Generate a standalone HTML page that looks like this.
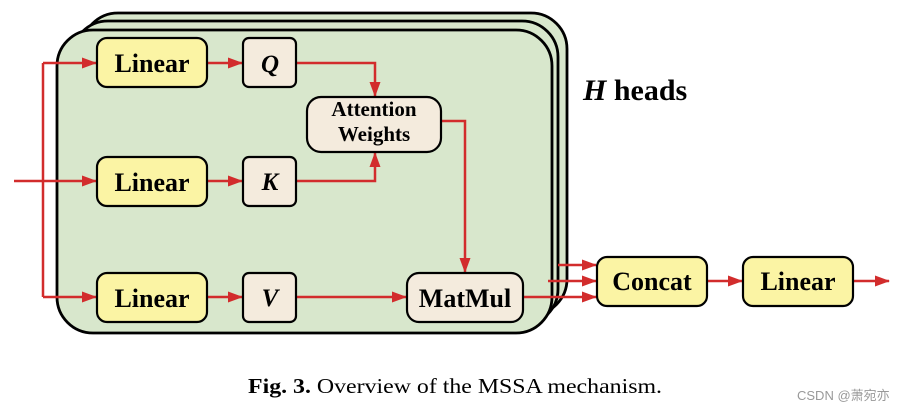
<!DOCTYPE html>
<html><head><style>
body{margin:0;background:#fff;width:913px;height:414px;overflow:hidden}
</style></head><body>
<svg width="913" height="414" xmlns="http://www.w3.org/2000/svg" font-family="Liberation Serif, serif">
<defs><marker id="a" markerWidth="15" markerHeight="11" refX="14" refY="5.5" orient="auto" markerUnits="userSpaceOnUse"><path d="M0,0 L15,5.5 L0,11 z" fill="#d22c2c"/></marker></defs>
<rect x="82" y="13" width="485" height="302" rx="36" fill="#d8e7cc" stroke="#000" stroke-width="2.8"/>
<rect x="72" y="21" width="486" height="304" rx="36" fill="#d8e7cc" stroke="#000" stroke-width="2.8"/>
<rect x="57" y="30" width="495" height="303" rx="36" fill="#d8e7cc" stroke="#000" stroke-width="2.8"/>
<g stroke="#d22c2c" stroke-width="2.5" fill="none">
<path d="M14,181 H96" marker-end="url(#a)"/>
<path d="M43,63 V297"/>
<path d="M43,63 H96" marker-end="url(#a)"/>
<path d="M43,297 H96" marker-end="url(#a)"/>
<path d="M207,63 H242" marker-end="url(#a)"/>
<path d="M207,181 H242" marker-end="url(#a)"/>
<path d="M207,297 H242" marker-end="url(#a)"/>
<path d="M296,63 H375 V96" marker-end="url(#a)"/>
<path d="M296,181 H375 V153" marker-end="url(#a)"/>
<path d="M441,121 H465 V272" marker-end="url(#a)"/>
<path d="M296,297 H406" marker-end="url(#a)"/>
<path d="M558,265 H596" marker-end="url(#a)"/>
<path d="M548,281 H596" marker-end="url(#a)"/>
<path d="M523,297 H596" marker-end="url(#a)"/>
<path d="M707,281 H742" marker-end="url(#a)"/>
<path d="M853,281 H889" marker-end="url(#a)"/>
</g>
<g stroke="#000" stroke-width="2.2">
<rect x="97" y="38" width="110" height="49" rx="10" fill="#fbf4a4"/>
<rect x="97" y="157" width="110" height="49" rx="10" fill="#fbf4a4"/>
<rect x="97" y="273" width="110" height="49" rx="10" fill="#fbf4a4"/>
<rect x="243" y="38" width="53" height="49" rx="6" fill="#f4ebdd"/>
<rect x="243" y="157" width="53" height="49" rx="6" fill="#f4ebdd"/>
<rect x="243" y="273" width="53" height="49" rx="6" fill="#f4ebdd"/>
<rect x="307" y="97" width="134" height="55" rx="14" fill="#f4ebdd"/>
<rect x="407" y="273" width="116" height="49" rx="12" fill="#f4ebdd"/>
<rect x="597" y="257" width="110" height="49" rx="10" fill="#fbf4a4"/>
<rect x="743" y="257" width="110" height="49" rx="10" fill="#fbf4a4"/>
</g>
<g font-weight="bold" text-anchor="middle" font-size="26">
<text x="152" y="72">Linear</text>
<text x="152" y="191">Linear</text>
<text x="152" y="307">Linear</text>
<text x="465" y="307">MatMul</text>
<text x="652" y="290">Concat</text>
<text x="798" y="290">Linear</text>
<g font-style="italic" font-size="25"><text x="270" y="72">Q</text><text x="270" y="190">K</text><text x="270" y="306">V</text></g>
<text x="374" y="116" font-size="21">Attention</text>
<text x="374" y="141" font-size="21">Weights</text>
</g>
<text x="583" y="100" font-size="30" font-weight="bold"><tspan font-style="italic">H</tspan> heads</text>
<text x="248" y="393" font-size="21" textLength="414" lengthAdjust="spacingAndGlyphs"><tspan font-weight="bold">Fig. 3.</tspan> Overview of the MSSA mechanism.</text>
<text x="797" y="400" font-size="13" fill="#999" font-family="Liberation Sans, Noto Sans CJK SC, sans-serif">CSDN @萧宛亦</text>
</svg>
</body></html>
